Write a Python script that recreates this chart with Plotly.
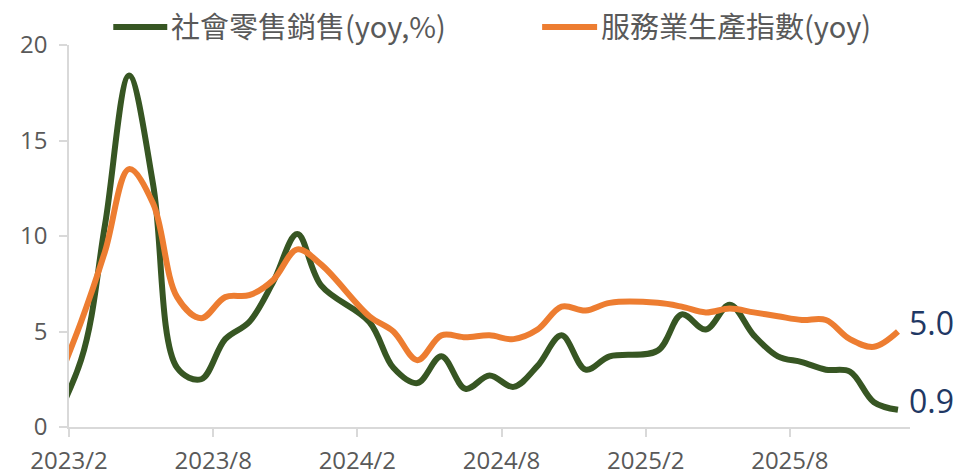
import plotly.graph_objects as go

# ---- data (monthly; Januaries not published, lines connect Dec -> Feb) ----
months = ["2022/12",
          "2023/2", "2023/3", "2023/4", "2023/5", "2023/6", "2023/7", "2023/8", "2023/9", "2023/10", "2023/11", "2023/12",
          "2024/2", "2024/3", "2024/4", "2024/5", "2024/6", "2024/7", "2024/8", "2024/9", "2024/10", "2024/11", "2024/12",
          "2025/2", "2025/3", "2025/4", "2025/5", "2025/6", "2025/7", "2025/8", "2025/9", "2025/10", "2025/11", "2025/12"]
retail_sales = [-1.8,
                3.5, 10.6, 18.4, 12.7, 3.1, 2.5, 4.6, 5.5, 7.6, 10.1, 7.4,
                5.5, 3.1, 2.3, 3.7, 2.0, 2.7, 2.1, 3.2, 4.8, 3.0, 3.7,
                4.0, 5.9, 5.1, 6.4, 4.8, 3.7, 3.4, 3.0, 2.9, 1.3, 0.9]
services_index = [-0.8,
                  5.5, 9.2, 13.5, 11.7, 6.8, 5.7, 6.8, 6.9, 7.7, 9.3, 8.5,
                  5.8, 5.0, 3.5, 4.8, 4.7, 4.8, 4.6, 5.1, 6.3, 6.1, 6.5,
                  6.5, 6.3, 6.0, 6.2, 6.0, 5.8, 5.6, 5.6, 4.6, 4.2, 5.0]
tick_labels = ["2023/2", "2023/8", "2024/2", "2024/8", "2025/2", "2025/8"]
series_names = ["社會零售銷售(yoy,%)", "服務業生產指數(yoy)"]

# month index relative to 2023/2 (axis start), points centred in each month slot
def month_pos(s):
    y, m = s.split("/")
    return (int(y) - 2023) * 12 + (int(m) - 2) + 0.5

xs = [month_pos(m) for m in months]
tick_pos = [month_pos(t) - 0.5 for t in tick_labels]

GREEN = "#375623"
ORANGE = "#ED7D31"
GRAY = "#595959"
AXIS = "#D9D9D9"
NAVY = "#1F3864"

W, H = 960, 476
L, R, T, B = 68.7, 50, 45, 49
pw, ph = W - L - R, H - T - B

def px(x):  # window pixel -> paper x
    return (x - L) / pw

def py(y):  # window pixel -> paper y
    return (H - B - y) / ph

fig = go.Figure()
fig.add_trace(go.Scatter(x=xs, y=retail_sales, mode="lines", name=series_names[0],
                         line=dict(color=GREEN, width=6, shape="spline", smoothing=1.0),
                         showlegend=False))
fig.add_trace(go.Scatter(x=xs, y=services_index, mode="lines", name=series_names[1],
                         line=dict(color=ORANGE, width=6, shape="spline", smoothing=1.0),
                         showlegend=False))

# end-value labels
for vals in (services_index, retail_sales):
    fig.add_annotation(x=xs[-1], y=vals[-1], text=f"{vals[-1]:.1f}", showarrow=False,
                       xanchor="left", yanchor="middle", xshift=10, yshift=9,
                       borderpad=0,
                       font=dict(family="Open Sans", size=32, color=NAVY))

# custom legend (long line samples like the reference)
legend_items = [(series_names[0], GREEN, 113, 167, 169),
                (series_names[1], ORANGE, 542, 597, 599)]
for name, col, x0, x1, tx in legend_items:
    fig.add_shape(type="line", xref="paper", yref="paper", x0=px(x0), x1=px(x1),
                  y0=py(27), y1=py(27), line=dict(color=col, width=6))
    fig.add_annotation(xref="paper", yref="paper", x=px(tx), y=py(25), text=name,
                       showarrow=False, xanchor="left", yanchor="middle",
                       font=dict(family="Noto Sans CJK TC", size=29, color=GRAY))

fig.update_layout(
    width=W, height=H,
    margin=dict(l=L, r=R, t=T, b=B, autoexpand=False),
    paper_bgcolor="white", plot_bgcolor="white",
    font=dict(family="Open Sans", color=GRAY),
)
fig.update_xaxes(range=[0, 35], tickvals=tick_pos, ticktext=tick_labels,
                 showline=True, linecolor=AXIS, linewidth=1.5,
                 ticks="outside", ticklen=8, tickcolor=AXIS, tickwidth=1.5,
                 showgrid=False, zeroline=False, ticklabelstandoff=3, automargin=False,
                 tickfont=dict(family="Open Sans", size=24, color=GRAY))
fig.update_yaxes(range=[0, 20], dtick=5, tick0=0,
                 showline=True, linecolor=AXIS, linewidth=1.5,
                 ticks="outside", ticklen=8, tickcolor=AXIS, tickwidth=1.5,
                 showgrid=False, zeroline=False, ticklabelstandoff=7, automargin=False,
                 tickfont=dict(family="Open Sans", size=24, color=GRAY))

fig.write_html("out.html",
               config={"displayModeBar": False},
               post_script="document.body.style.margin='0';document.body.style.overflow='hidden';")
